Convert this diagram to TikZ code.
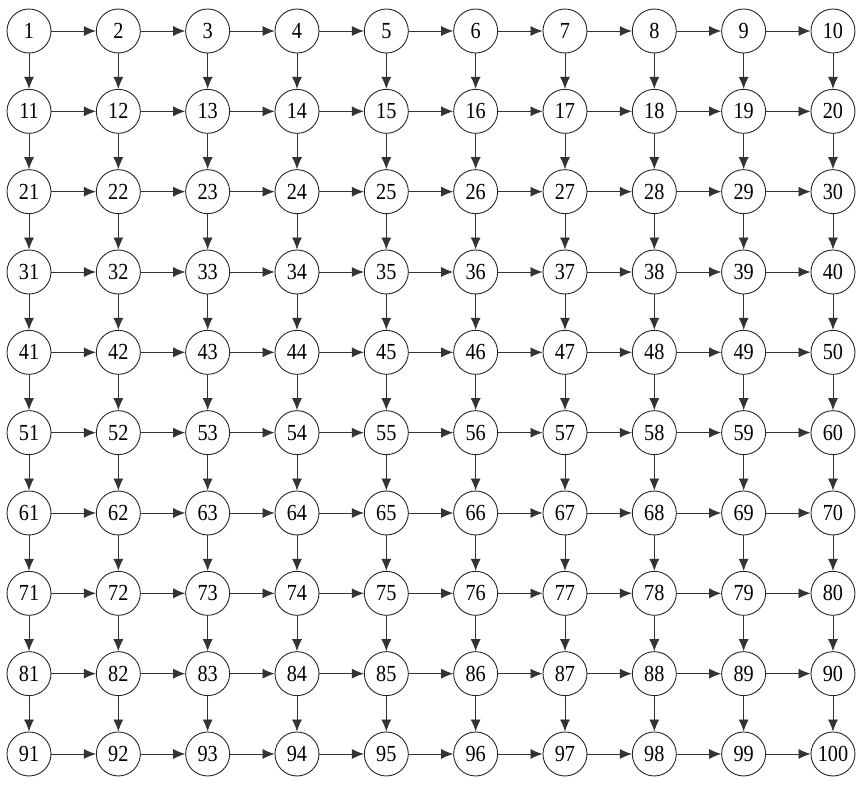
\documentclass[tikz,border=0pt]{standalone}
\usepackage{fontspec}
\setmainfont[FakeStretch=0.88]{Liberation Serif}
\usetikzlibrary{arrows.meta}
\begin{document}
\begin{tikzpicture}[x=1pt,y=1pt,
  gnode/.style={circle,draw=black!85,line width=0.9pt,minimum size=44pt,inner sep=0pt,
    font=\fontsize{23}{23}\selectfont},
  garrow/.style={draw=black!80,line width=0.9pt,-{Latex[length=12pt,width=10pt]}}]
\useasboundingbox (0,0) rectangle (858,-785);
\foreach \r in {0,...,9}{
  \foreach \c in {0,...,9}{
    \pgfmathtruncatemacro{\n}{\r*10+\c+1}
    \pgfmathsetmacro{\xx}{29+\c*89.33}
    \pgfmathsetmacro{\yy}{-(31+\r*80.33)}
    \node[gnode] (n\n) at (\xx,\yy) {\n};
  }
}
\foreach \r in {0,...,9}{
  \foreach \c in {1,...,9}{
    \pgfmathtruncatemacro{\a}{\r*10+\c}
    \pgfmathtruncatemacro{\b}{\a+1}
    \draw[garrow] (n\a) -- (n\b);
  }
}
\foreach \r in {0,...,8}{
  \foreach \c in {1,...,10}{
    \pgfmathtruncatemacro{\a}{\r*10+\c}
    \pgfmathtruncatemacro{\b}{\a+10}
    \draw[garrow] (n\a) -- (n\b);
  }
}
\end{tikzpicture}
\end{document}
